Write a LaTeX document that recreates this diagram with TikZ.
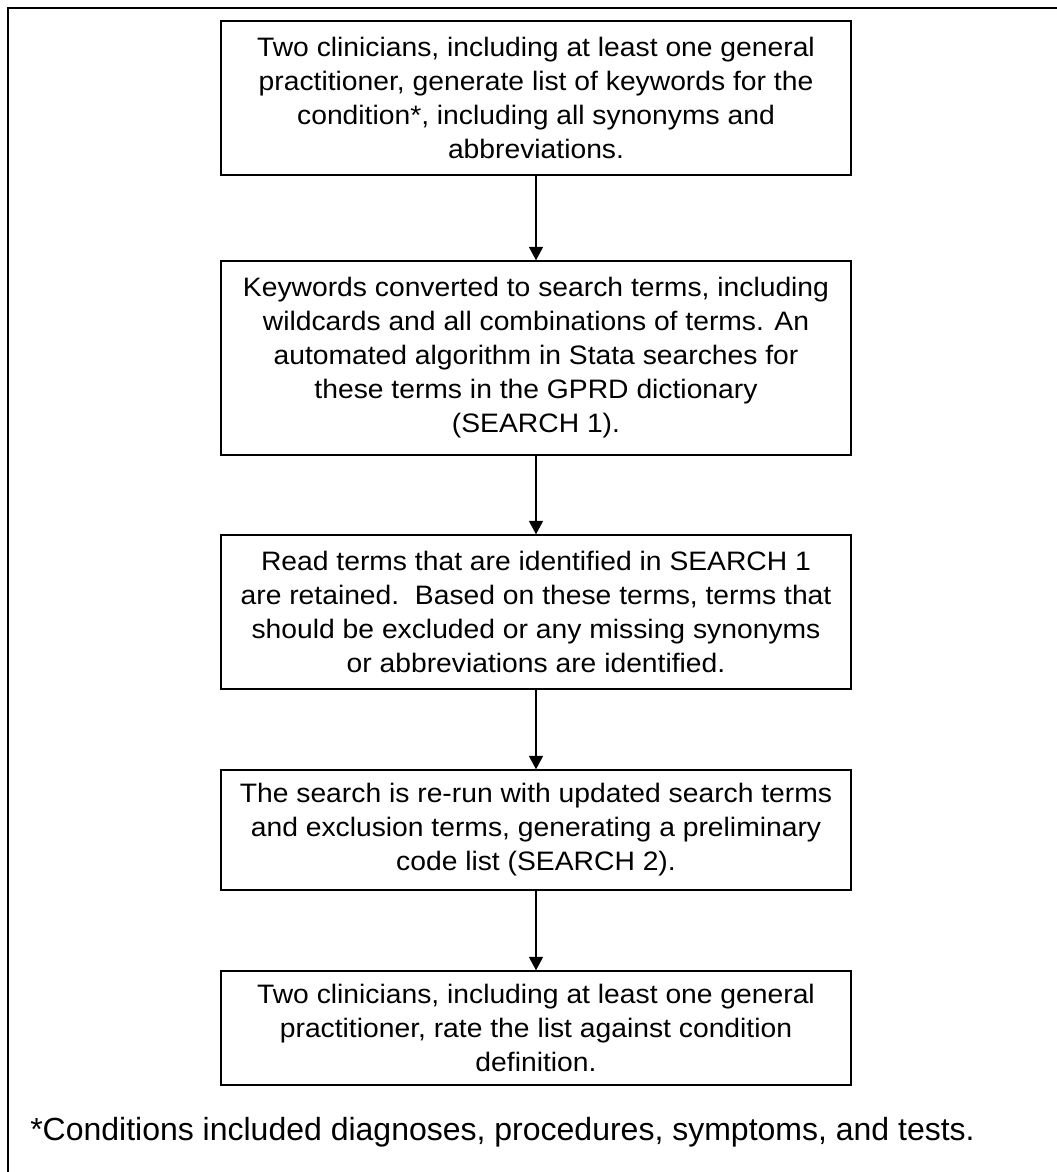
\documentclass[tikz,border=0pt]{standalone}
\usepackage{fontspec}
\setmainfont{Liberation Sans}
\newfontfamily\boxfont[FakeStretch=1.06]{Liberation Sans}
\usetikzlibrary{arrows.meta}
\begin{document}
\begin{tikzpicture}[x=0.75pt,y=-0.75pt,
  stepbox/.style={draw=black, line width=1.1pt, align=center, inner sep=0pt,
    minimum width=472.5pt, font=\boxfont\fontsize{20}{25.5}\selectfont},
  flow/.style={-{Triangle[length=10pt,width=10.5pt]}, line width=1pt}]
\useasboundingbox (0,0) rectangle (1057,1172);
% outer frame (top and left edges)
\draw[line width=1.5pt] (8,1190) -- (8,8) -- (1075,8);

\node[stepbox, minimum height={154*0.75pt}] (s1) at (536,98)
  {Two clinicians, including at least one general\\
   practitioner, generate list of keywords for the\\
   condition*, including all synonyms and\\
   abbreviations.};
\node[stepbox, minimum height={194*0.75pt}] (s2) at (536,358)
  {Keywords converted to search terms, including\\
   wildcards and all combinations of terms. An\\
   automated algorithm in Stata searches for\\
   these terms in the GPRD dictionary\\
   (SEARCH 1).};
\node[stepbox, minimum height={154*0.75pt}] (s3) at (536,612)
  {Read terms that are identified in SEARCH 1\\
   are retained.\ \ Based on these terms, terms that\\
   should be excluded or any missing synonyms\\
   or abbreviations are identified.};
\node[stepbox, minimum height={120*0.75pt}] (s4) at (536,830)
  {The search is re-run with updated search terms\\
   and exclusion terms, generating a preliminary\\
   code list (SEARCH 2).};
\node[stepbox, minimum height={114*0.75pt}] (s5) at (536,1028)
  {Two clinicians, including at least one general\\
   practitioner, rate the list against condition\\
   definition.};

\draw[flow] (s1) -- (s2);
\draw[flow] (s2) -- (s3);
\draw[flow] (s3) -- (s4);
\draw[flow] (s4) -- (s5);

\node[anchor=west, inner sep=0pt, font=\fontsize{24}{29}\selectfont] (note) at (30,1132)
  {*Conditions included diagnoses, procedures, symptoms, and tests.};
\end{tikzpicture}
\end{document}
